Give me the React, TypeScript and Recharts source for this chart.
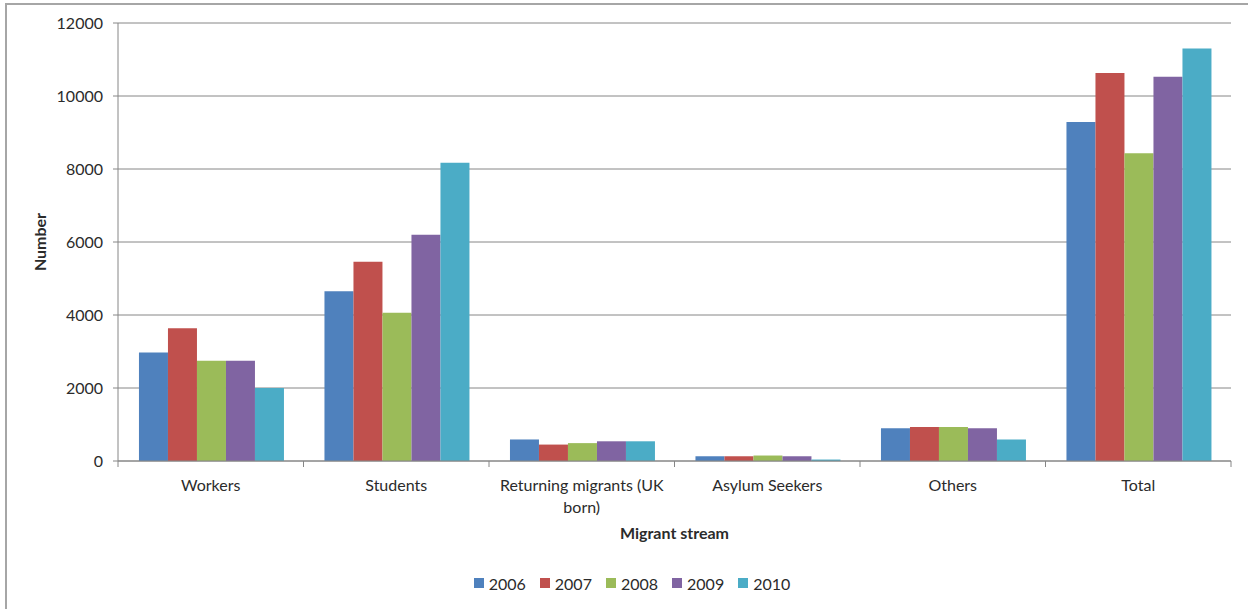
import React from 'react';
import { BarChart, Bar, XAxis, YAxis, CartesianGrid, Legend } from 'recharts';

const categories = ['Workers', 'Students', 'Returning migrants (UK\nborn)', 'Asylum Seekers', 'Others', 'Total'];
const years = ['2006', '2007', '2008', '2009', '2010'];
const v2006 = [2970, 4650, 590, 130, 900, 9290];
const v2007 = [3640, 5460, 450, 130, 930, 10630];
const v2008 = [2750, 4060, 490, 150, 930, 8430];
const v2009 = [2750, 6200, 540, 130, 900, 10530];
const v2010 = [2000, 8170, 540, 40, 590, 11300];
const yTicks = [0, 2000, 4000, 6000, 8000, 10000, 12000];
const colors = ['#4F81BD', '#C0504D', '#9BBB59', '#8064A2', '#4BACC6'];

const seriesValues = [v2006, v2007, v2008, v2009, v2010];
const data = categories.map((c, i) => {
  const row: Record<string, string | number> = { name: c };
  years.forEach((y, k) => {
    row[y] = seriesValues[k][i];
  });
  return row;
});

const FONT = 'Lato, "Open Sans", sans-serif';
const TEXT = '#2b2b2b';
const AXIS = '#868686';

const XTick = (props: any) => {
  const { x, y, payload, index } = props;
  const off = payload && typeof payload.offset === 'number' && payload.offset > 0 ? payload.offset : 92.75;
  const lines = String(payload.value).split('\n');
  const axisY = y - 8;
  return (
    <g>
      <line x1={x - off} x2={x - off} y1={axisY} y2={axisY + 6} stroke={AXIS} />
      {index === categories.length - 1 && (
        <line x1={x + off} x2={x + off} y1={axisY} y2={axisY + 6} stroke={AXIS} />
      )}
      <text x={x} y={y + 22} textAnchor="middle" fill={TEXT} fontSize={16} fontFamily={FONT}>
        {lines.map((l, i) => (
          <tspan key={i} x={x} dy={i === 0 ? 0 : 22}>
            {l}
          </tspan>
        ))}
      </text>
    </g>
  );
};

const LegendContent = () => (
  <div
    style={{
      display: 'flex',
      justifyContent: 'center',
      alignItems: 'center',
      height: 24,
      paddingLeft: 33,
      fontFamily: FONT,
      fontSize: 16,
      color: TEXT,
    }}
  >
    {years.map((y, i) => (
      <div key={y} style={{ display: 'flex', alignItems: 'center', marginRight: i === years.length - 1 ? 0 : 14 }}>
        <span style={{ display: 'inline-block', width: 10, height: 10, background: colors[i], marginRight: 5 }} />
        <span>{y}</span>
      </div>
    ))}
  </div>
);

export default function App() {
  return (
    <div style={{ position: 'absolute', left: 0, top: 0, width: 1248, height: 609, background: '#fff', overflow: 'hidden' }}>
      <div
        style={{
          position: 'absolute',
          left: 5,
          top: 3,
          width: 1300,
          height: 700,
          borderTop: '2px solid #a6a6a6',
          borderLeft: '2px solid #a6a6a6',
          boxSizing: 'border-box',
        }}
      />
      <div style={{ position: 'absolute', left: 0, top: 0 }}>
        <BarChart
          width={1248}
          height={609}
          data={data}
          margin={{ top: 23, right: 17, left: 0, bottom: 14 }}
          barCategoryGap="11.3%"
          barGap={0}
        >
          <CartesianGrid vertical={false} stroke={AXIS} strokeWidth={1} />
          <XAxis
            dataKey="name"
            height={110}
            interval={0}
            tickLine={false}
            axisLine={{ stroke: AXIS }}
            tick={<XTick />}
            label={{
              content: (p: any) => {
                const vb = p.viewBox || { x: 118, y: 461, width: 1113, height: 110 };
                return (
                  <text
                    x={vb.x + vb.width / 2}
                    y={vb.y + 78}
                    textAnchor="middle"
                    fontWeight="bold"
                    fontSize={16}
                    fontFamily={FONT}
                    fill={TEXT}
                  >
                    Migrant stream
                  </text>
                );
              },
            }}
          />
          <YAxis
            width={118}
            domain={[0, 12000]}
            ticks={yTicks}
            interval={0}
            tickSize={5}
            tickMargin={10}
            tickLine={{ stroke: AXIS }}
            axisLine={{ stroke: AXIS }}
            tick={{ fill: TEXT, fontSize: 16, fontFamily: FONT }}
            label={{
              content: (p: any) => {
                const vb = p.viewBox || { x: 0, y: 23, width: 118, height: 438 };
                const cx = vb.x + 46;
                const cy = vb.y + vb.height / 2;
                return (
                  <text
                    x={cx}
                    y={cy}
                    transform={`rotate(-90, ${cx}, ${cy})`}
                    textAnchor="middle"
                    fontWeight="bold"
                    fontSize={16}
                    fontFamily={FONT}
                    fill={TEXT}
                  >
                    Number
                  </text>
                );
              },
            }}
          />
          <Legend verticalAlign="bottom" content={<LegendContent />} />
          {years.map((y, i) => (
            <Bar key={y} dataKey={y} fill={colors[i]} isAnimationActive={false} />
          ))}
        </BarChart>
      </div>
    </div>
  );
}
